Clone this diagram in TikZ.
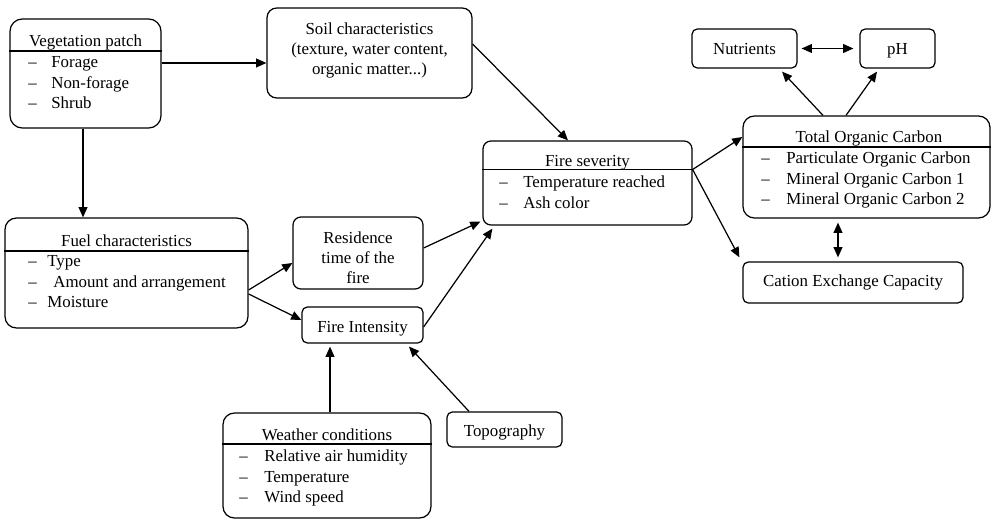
\documentclass[tikz,border=0pt]{standalone}
\usepackage{fontspec}
\setmainfont{Liberation Serif}
\usetikzlibrary{arrows.meta,positioning,calc,fit}

\tikzset{
  box/.style={draw, line width=0.7pt, inner sep=0pt},
  txt/.style={inner sep=0pt, yshift=-0.035cm},
  ttl/.style={txt, anchor=base},
  itm/.style={txt, anchor=base west},
  link/.style={-{Triangle[length=5.8pt,width=5pt]}, line width=0.7pt},
  both/.style={{Triangle[length=5.8pt,width=5pt]}-{Triangle[length=5.8pt,width=5pt]}, line width=0.7pt},
}
% list line: dash, then the text
\newcommand{\li}[2][0.48cm]{\makebox[#1][l]{\textendash}#2}

\begin{document}
\begin{tikzpicture}[x=0.02cm,y=-0.02cm,font=\fontsize{9.6pt}{11.4pt}\selectfont]
  \useasboundingbox (0,0) rectangle (991,520);
  % boxes
  \node[box,rounded corners=7pt,fit={(10,19) (161,128)}] (veg) {};
  \node[box,rounded corners=5.5pt,fit={(267,8) (472,98)}] (soil) {};
  \node[box,rounded corners=6.5pt,fit={(5,218) (248,328)}] (fuel) {};
  \node[box,rounded corners=4.5pt,fit={(293,217) (423,289)}] (res) {};
  \node[box,rounded corners=3pt,fit={(302,307) (423,343)}] (fint) {};
  \node[box,rounded corners=4.5pt,fit={(483,141) (692,225)}] (sev) {};
  \node[box,rounded corners=6.5pt,fit={(743,116) (990,218)}] (toc) {};
  \node[box,rounded corners=3pt,fit={(692,29) (797,68)}] (nut) {};
  \node[box,rounded corners=3pt,fit={(860,29) (935,68)}] (ph) {};
  \node[box,rounded corners=3pt,fit={(743,262) (963,303)}] (cec) {};
  \node[box,rounded corners=6.5pt,fit={(223,413) (431,518)}] (weather) {};
  \node[box,rounded corners=3pt,fit={(447,412) (562,447)}] (topo) {};

  % vegetation patch
  \node[ttl] (veg-t) at (85.5,45) {Vegetation patch};
  \draw[line width=0.7pt] (veg.west |- 0,51) -- (veg.east |- 0,51);
  \foreach \t [count=\i] in {Forage,Non-forage,Shrub}
    \node[itm] (veg-\i) at (28,{45.5+20.5*\i}) {\li[0.46cm]{\t}};

  % soil
  \node[txt,align=center] (soil-t) at (369.5,49)
    {Soil characteristics\\(texture, water content,\\organic matter...)};

  % fuel
  \node[ttl] (fuel-t) at (126.5,245) {Fuel characteristics};
  \draw[line width=0.7pt] (fuel.west |- 0,251) -- (fuel.east |- 0,251);
  \foreach \w/\t [count=\i] in {0.38cm/Type,0.5cm/Amount and arrangement,0.38cm/Moisture}
    \node[itm] (fuel-\i) at (28,{244.5+20.5*\i}) {\li[\w]{\t}};

  % residence time, fire intensity
  \node[txt,align=center] (res-t) at (358,256) {Residence\\time of the\\fire};
  \node[ttl] (fint-t) at (362.5,331) {Fire Intensity};

  % fire severity
  \node[ttl] (sev-t) at (587.5,165) {Fire severity};
  \draw[line width=0.7pt] (sev.west |- 0,169.5) -- (sev.east |- 0,169.5);
  \foreach \t [count=\i] in {Temperature reached,Ash color}
    \node[itm] (sev-\i) at (499,{165.5+20.5*\i}) {\li{\t}};

  % total organic carbon
  \node[ttl] (toc-t) at (869,141) {Total Organic Carbon};
  \draw[line width=0.7pt] (toc.west |- 0,147) -- (toc.east |- 0,147);
  \foreach \t [count=\i] in {Particulate Organic Carbon,Mineral Organic Carbon 1,Mineral Organic Carbon 2}
    \node[itm] (toc-\i) at (761,{141.5+20.5*\i}) {\li[0.5cm]{\t}};

  \node[ttl] (nut-t) at (744.5,53) {Nutrients};
  \node[ttl] (ph-t) at (897.5,53) {pH};
  \node[ttl] (cec-t) at (853,285) {Cation Exchange Capacity};

  % weather, topography
  \node[ttl] (weather-t) at (327,439) {Weather conditions};
  \draw[line width=0.7pt] (weather.west |- 0,444) -- (weather.east |- 0,444);
  \foreach \t [count=\i] in {Relative air humidity,Temperature,Wind speed}
    \node[itm] (weather-\i) at (239,{439.5+20.5*\i}) {\li[0.5cm]{\t}};
  \node[ttl] (topo-t) at (504.5,435) {Topography};

  % connectors
  \draw[link] (veg.east |- 0,63) -- (soil.west |- 0,63);
  \draw[link] (veg.south -| 83,0) -- (fuel.north -| 83,0);
  \draw[link] (soil.east |- 0,44) -- (sev.north -| 568,0);
  \draw[link] (fuel.east |- 0,290) -- (res.west |- 0,263);
  \draw[link] (fuel.east |- 0,294) -- (fint.west |- 0,320);
  \draw[link] (res.east |- 0,248) -- ($(sev.south west)+(-2,-4)$);
  \draw[link] (fint.east |- 0,327) -- ($(sev.south west)+(10,3)$);
  \coordinate (sev-r) at (sev.east |- 0,169.5);
  \draw[link] (sev-r) -- (toc.west |- 0,137);
  \draw[link] (sev-r) -- ($(cec.north west)+(-3,-4)$);
  \draw[link] (toc.north -| 823,0) -- ($(nut.south -| 782,0)+(0,3)$);
  \draw[link] (toc.north -| 846,0) -- ($(ph.south -| 877,0)+(0,3)$);
  \draw[both] ($(nut.east)+(4,0)$) -- ($(ph.west)+(-6,0)$);
  \draw[both] ($(toc.south -| 838,0)+(0,4)$) -- ($(cec.north -| 838,0)+(0,-4)$);
  \draw[link] (weather.north -| 330,0) -- ($(fint.south -| 330,0)+(0,3)$);
  \draw[link] (topo.north -| 469,0) -- ($(fint.south -| 409,0)+(0,3)$);
\end{tikzpicture}
\end{document}
